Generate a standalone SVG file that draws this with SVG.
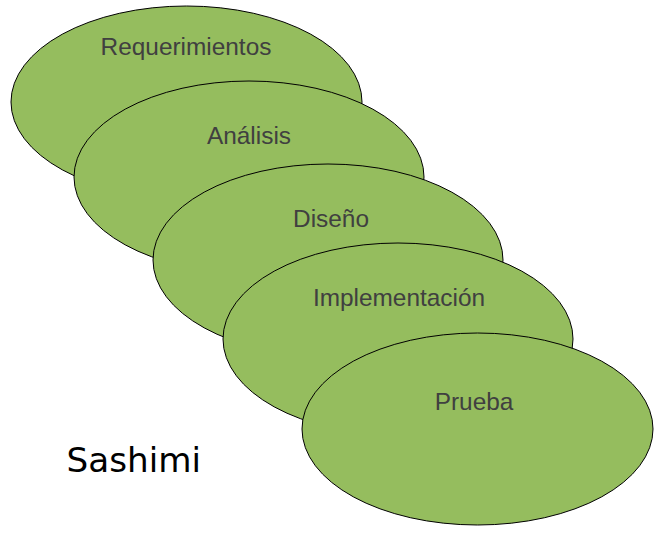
<svg xmlns="http://www.w3.org/2000/svg" width="663" height="540" viewBox="0 0 663 540">
<style>
.e{fill:#95bd5e;stroke:#000;stroke-width:1}
.t{font-family:"Liberation Sans",Arial,sans-serif;font-size:24.4px;fill:#404040;text-anchor:middle}
</style>
<rect width="663" height="540" fill="#fff"/>
<g id="requerimientos"><ellipse class="e" cx="186.5" cy="102" rx="175.5" ry="96"/><text class="t" x="186" y="55">Requerimientos</text></g>
<g id="analisis"><ellipse class="e" cx="249" cy="177" rx="175" ry="96"/><text class="t" x="249" y="144">Análisis</text></g>
<g id="diseno"><ellipse class="e" cx="328" cy="260" rx="175" ry="96"/><text class="t" x="331" y="227">Diseño</text></g>
<g id="implementacion"><ellipse class="e" cx="398" cy="339" rx="175" ry="96"/><text class="t" x="399" y="306">Implementación</text></g>
<g id="prueba"><ellipse class="e" cx="477.5" cy="429" rx="175.5" ry="96"/><text class="t" x="474" y="410">Prueba</text></g>
<g id="connectors"/>
<text x="66.5" y="472" font-family="DejaVu Sans,sans-serif" font-size="34.2" fill="#000">Sashimi</text>
</svg>
